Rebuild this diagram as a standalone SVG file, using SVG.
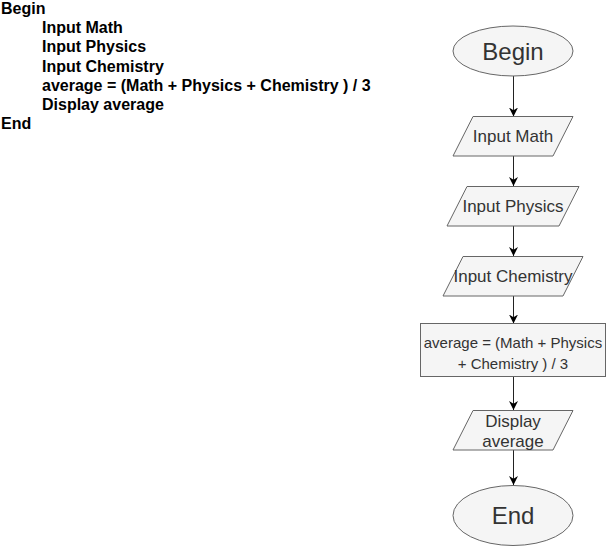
<svg xmlns="http://www.w3.org/2000/svg" width="606" height="547" viewBox="0 0 606 547">
<style>
.code{font-family:"Liberation Sans",Arial,sans-serif;font-weight:bold;font-size:16px;fill:#000}
.shape{fill:#f5f5f5;stroke:#666;stroke-width:1}
.lbl{font-family:"Liberation Sans",Arial,sans-serif;fill:#333;text-anchor:middle}
.big{font-size:24px}
.mid{font-size:17px}
.small{font-size:15px}
.edge{stroke:#222;stroke-width:1;fill:none}
</style>
<defs>
<marker id="arr" viewBox="0 0 10 10" refX="10" refY="5" markerWidth="9" markerHeight="9" markerUnits="userSpaceOnUse" orient="auto">
<path d="M0,0 L10,5 L0,10 L3,5 z" fill="#000"/>
</marker>
</defs>
<rect width="606" height="547" fill="#fff"/>
<g id="pseudocode">
<text class="code" x="1" y="14">Begin</text>
<text class="code" x="42" y="33.2">Input Math</text>
<text class="code" x="42" y="52.4">Input Physics</text>
<text class="code" x="42" y="71.6">Input Chemistry</text>
<text class="code" x="42" y="90.8">average = (Math + Physics + Chemistry ) / 3</text>
<text class="code" x="42" y="110">Display average</text>
<text class="code" x="1" y="129.2">End</text>
</g>
<g id="connectors">
<path class="edge" d="M513.5,76 L513.5,116.5" marker-end="url(#arr)"/>
<path class="edge" d="M513.5,156 L513.5,186" marker-end="url(#arr)"/>
<path class="edge" d="M513.5,226 L513.5,256" marker-end="url(#arr)"/>
<path class="edge" d="M513.5,296 L513.5,323.5" marker-end="url(#arr)"/>
<path class="edge" d="M513.5,376.5 L513.5,410" marker-end="url(#arr)"/>
<path class="edge" d="M513.5,450 L513.5,485" marker-end="url(#arr)"/>
</g>
<g id="begin">
<ellipse class="shape" cx="513" cy="51" rx="60" ry="25"/>
<text class="lbl big" x="513" y="60">Begin</text>
</g>
<g id="input-math">
<polygon class="shape" points="473,116.5 573,116.5 553,156 453,156"/>
<text class="lbl mid" x="513" y="142">Input Math</text>
</g>
<g id="input-physics">
<polygon class="shape" points="467,186.5 579,186.5 559,226 447,226"/>
<text class="lbl mid" x="513" y="212">Input Physics</text>
</g>
<g id="input-chemistry">
<polygon class="shape" points="463,256.5 583,256.5 563,296 443,296"/>
<text class="lbl mid" x="513" y="282">Input Chemistry</text>
</g>
<g id="compute-average">
<rect class="shape" x="420.5" y="323.5" width="185" height="53"/>
<text class="lbl small" x="513" y="347.5">average = (Math + Physics</text>
<text class="lbl small" x="513" y="368.5">+ Chemistry ) / 3</text>
</g>
<g id="display-average">
<polygon class="shape" points="473,410.5 573,410.5 553,450 453,450"/>
<text class="lbl mid" x="513" y="427">Display</text>
<text class="lbl mid" x="513" y="447">average</text>
</g>
<g id="end">
<ellipse class="shape" cx="513" cy="515.5" rx="60" ry="30"/>
<text class="lbl big" x="513" y="524">End</text>
</g>
</svg>
